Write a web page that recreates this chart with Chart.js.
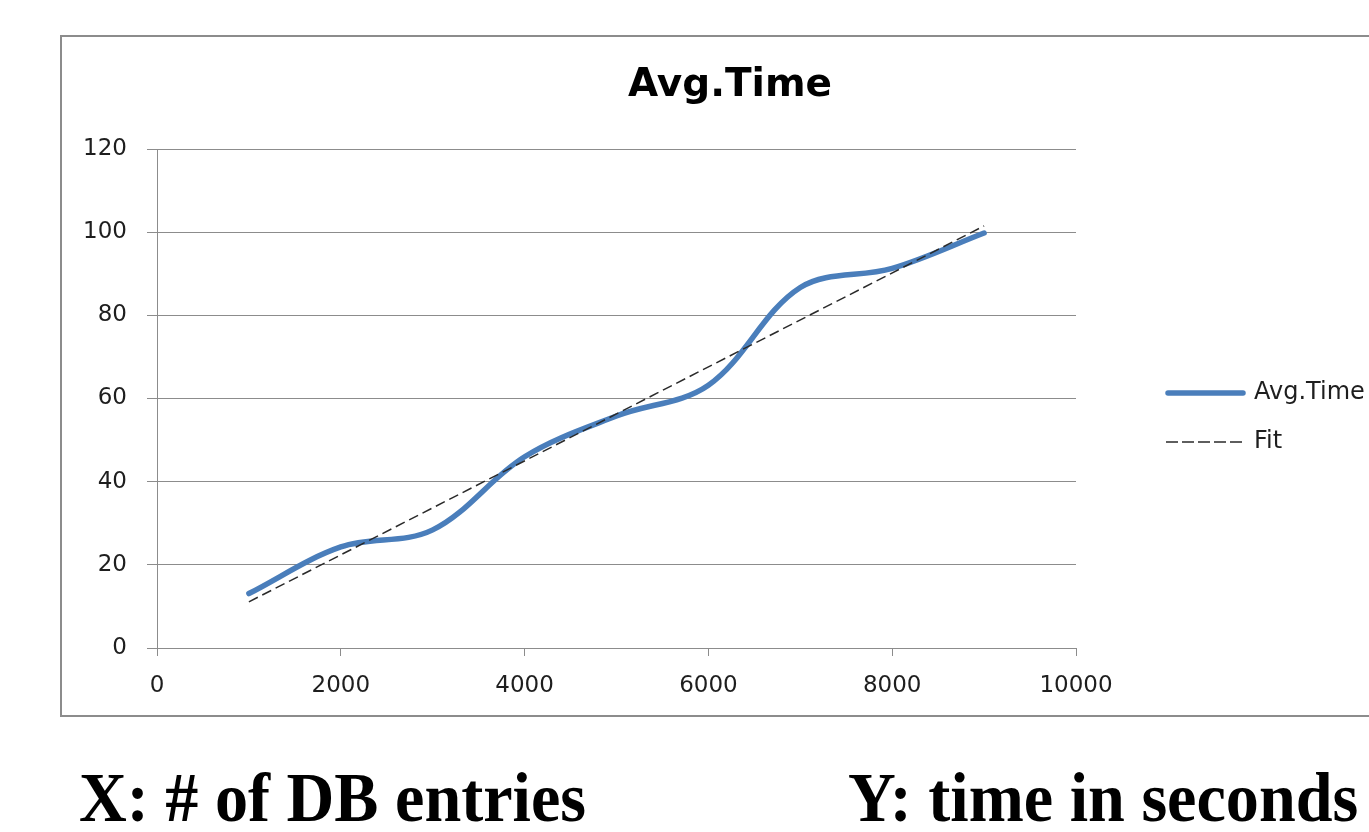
<!DOCTYPE html>
<html>
<head>
<meta charset="utf-8">
<script src="https://cdn.jsdelivr.net/npm/chart.js@4.4.1/dist/chart.umd.min.js"></script>
<style>
  html, body { margin: 0; padding: 0; background: #fff; overflow: hidden; width: 1369px; height: 832px; }
  #frame { position: absolute; left: 60px; top: 35px; width: 1400px; height: 678px; border: 2px solid #8c8c8c; }
  #myChart { position: absolute; left: 0; top: 0; }
  .caption { position: absolute; top: 763px; font-family: "Liberation Serif", serif; font-weight: bold; font-size: 70px;
             line-height: 70px; white-space: nowrap; color: #000; transform: scaleX(0.945); transform-origin: left top; }
</style>
</head>
<body>
<div id="frame"></div>
<canvas id="myChart" width="1369" height="832"></canvas>
<div class="caption" style="left:79px">X: # of DB entries</div>
<div class="caption" style="left:848px">Y: time in seconds</div>
<script>
'use strict';

//// data
const dbEntries = [1000, 2000, 3000, 4000, 5000, 6000, 7000, 8000, 9000];
const avgTime = [13.1, 24.3, 28.4, 46, 55.8, 63.2, 86.7, 91.3, 99.8];
const fitX = [1000, 9000];
const fitY = [11.1, 101.5];
const chartTitle = 'Avg.Time';
const xTicks = { min: 0, max: 10000, step: 2000 };
const yTicks = { min: 0, max: 120, step: 20 };

const toPoints = (xs, ys) => xs.map((x, i) => ({ x: x, y: ys[i] }));

const gridGray = '#8c8c8c';
const textColor = '#1e1e1e';

//// title + legend drawn at fixed spots (Excel style)
const excelDecor = {
    id: 'excelDecor',
    afterDraw(chart) {
        const ctx = chart.ctx;
        ctx.save();
        ctx.fillStyle = '#000';
        ctx.font = 'bold 39px "DejaVu Sans"';
        ctx.textAlign = 'center';
        ctx.textBaseline = 'middle';
        ctx.fillText(chartTitle, 730, 86);

        ctx.font = '24px "DejaVu Sans"';
        ctx.textAlign = 'left';
        chart.data.datasets.forEach(function (ds, i) {
            const y = 393 + i * 49;
            ctx.beginPath();
            ctx.strokeStyle = ds.borderColor;
            ctx.lineWidth = ds.borderWidth;
            ctx.lineCap = ds.borderCapStyle || 'butt';
            ctx.setLineDash(ds.legendDash || []);
            ctx.moveTo(ds.borderWidth > 3 ? 1168 : 1166, y);
            ctx.lineTo(ds.borderWidth > 3 ? 1243 : 1245, y);
            ctx.stroke();
            ctx.setLineDash([]);
            ctx.fillStyle = textColor;
            ctx.fillText(ds.label, 1254, y);
        });
        ctx.restore();
    }
};

const ctx = document.getElementById('myChart').getContext('2d');

const chart = new Chart(ctx, {
    type: 'line',
    data: {
        datasets: [{
            label: 'Avg.Time',
            data: toPoints(dbEntries, avgTime),
            borderColor: '#4A7EBB',
            borderWidth: 5.5,
            borderCapStyle: 'round',
            tension: 0.35,
            pointRadius: 0,
            order: 1
        },
        {
            label: 'Fit',
            data: toPoints(fitX, fitY),
            borderColor: '#2a2a2a',
            borderWidth: 1.5,
            borderDash: [10, 5],
            legendDash: [12, 4],
            tension: 0,
            pointRadius: 0,
            order: 0
        }]
    },
    options: {
        responsive: false,
        animation: false,
        events: [],
        layout: { padding: { left: 40, right: 293, top: 149, bottom: 124 } },
        plugins: {
            legend: { display: false },
            title: { display: false },
            tooltip: { enabled: false }
        },
        scales: {
            x: {
                type: 'linear',
                min: xTicks.min,
                max: xTicks.max,
                afterFit: (scale) => { scale.height = 60; },
                ticks: {
                    stepSize: xTicks.step,
                    maxRotation: 0,
                    padding: 16,
                    color: textColor,
                    font: { family: 'DejaVu Sans', size: 23 },
                    callback: (v) => String(v)
                },
                grid: { drawOnChartArea: false, drawTicks: true, tickLength: 8, color: gridGray },
                border: { display: true, color: gridGray, width: 1 }
            },
            y: {
                min: yTicks.min,
                max: yTicks.max,
                afterFit: (scale) => { scale.width = 117; },
                ticks: {
                    stepSize: yTicks.step,
                    padding: 20,
                    color: textColor,
                    font: { family: 'DejaVu Sans', size: 23 }
                },
                grid: { color: gridGray, lineWidth: 1, tickLength: 10 },
                border: { display: true, color: gridGray, width: 1 }
            }
        }
    },
    plugins: [excelDecor]
});
</script>
</body>
</html>
